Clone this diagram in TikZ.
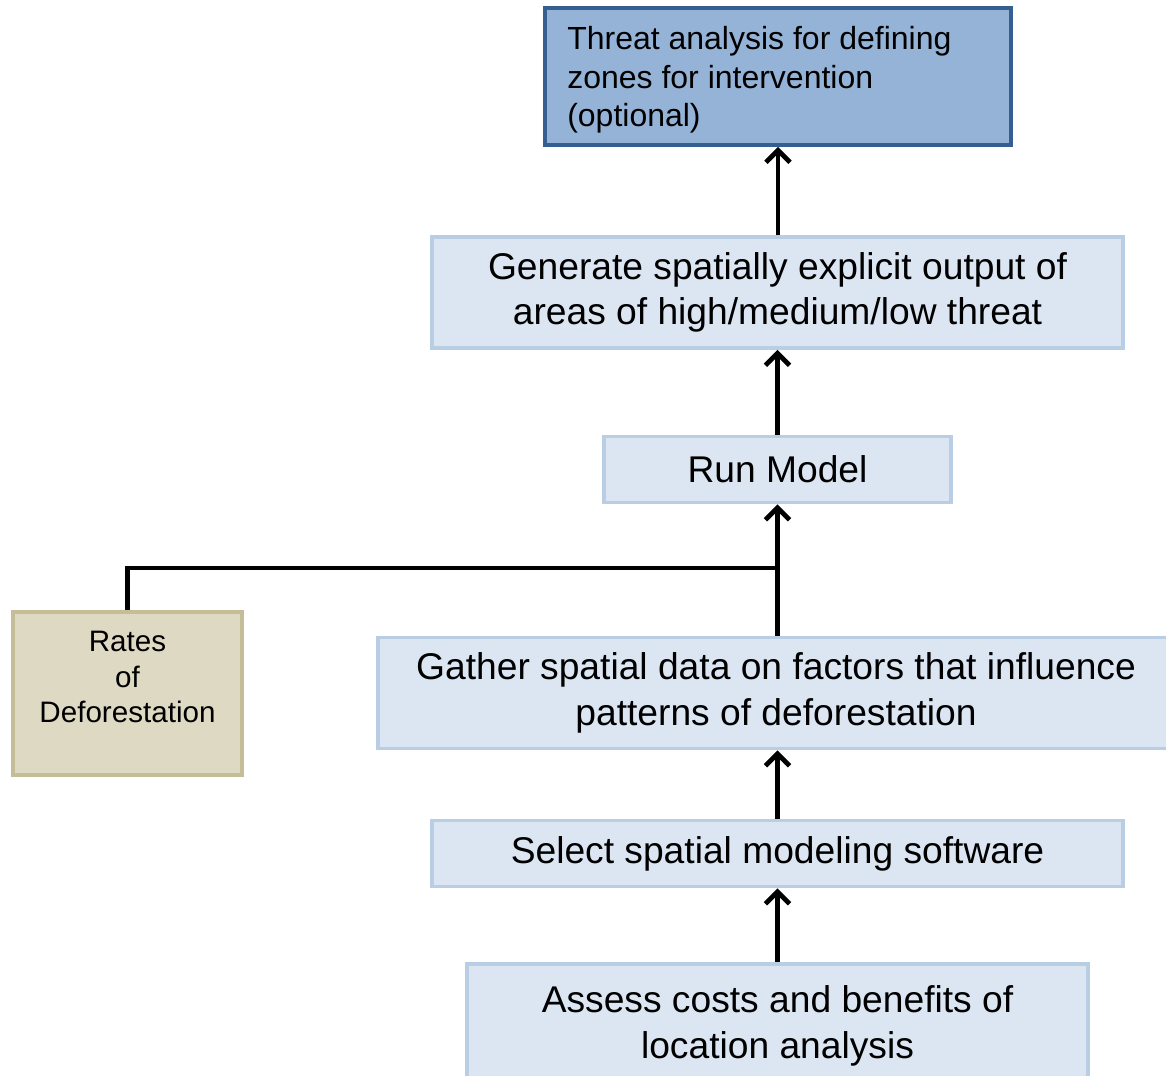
\documentclass[tikz,border=0pt]{standalone}
\usepackage{fontspec}
\setmainfont{Liberation Sans}
\usetikzlibrary{arrows.meta}
\definecolor{lightfill}{HTML}{DCE6F2}
\definecolor{lightedge}{HTML}{B9CDE5}
\definecolor{darkfill}{HTML}{95B3D7}
\definecolor{darkedge}{HTML}{365F91}
\definecolor{tanfill}{HTML}{DDD9C3}
\definecolor{tanedge}{HTML}{C4BD97}
\begin{document}
\begin{tikzpicture}[x=0.75pt,y=-0.75pt,
  box/.style={draw=lightedge,fill=lightfill,line width=2.8pt,inner sep=0pt,align=center,
    font=\fontsize{27.9}{34}\selectfont},
  topbox/.style={draw=darkedge,fill=darkfill,line width=2.8pt,inner sep=0pt},
  tanbox/.style={draw=tanedge,fill=tanfill,line width=2.8pt,inner sep=0pt},
  conn/.style={line width=3.6pt,-{Straight Barb[length=9pt,width=18pt]}},
  plain/.style={line width=3.6pt}]
\useasboundingbox (0,0) rectangle (1166,1075);
\clip (0,0) rectangle (1166,1075);
\node[topbox,minimum width=466*0.75pt,minimum height=137*0.75pt] (threat) at (778,76.5) {};
\node[anchor=north west,inner sep=0pt,align=left,font=\fontsize{24}{29}\selectfont] (threattxt) at (567,26)
  {Threat analysis for defining\\zones for intervention\\(optional)};
\node[box,minimum width=691*0.75pt,minimum height=111*0.75pt] (gen) at (777.5,292.5)
  {Generate spatially explicit output of\\areas of high/medium/low threat};
\node[box,minimum width=347*0.75pt,minimum height=66*0.75pt] (run) at (777.5,469.5)
  {Run Model};
\node[box,minimum width=796*0.75pt,minimum height=111*0.75pt] (gather) at (776,693)
  {Gather spatial data on factors that influence\\patterns of deforestation};
\node[box,minimum width=691*0.75pt,minimum height=66*0.75pt] (select) at (777.5,853.5)
  {Select spatial modeling software};
\node[box,minimum width=621*0.75pt,minimum height=124*0.75pt] (assess) at (777.5,1026)
  {Assess costs and benefits of\\location analysis};
\node[tanbox,minimum width=229*0.75pt,minimum height=163*0.75pt] (rates) at (127.5,693.5) {};
\node[anchor=north,inner sep=0pt,align=center,font=\fontsize{22.2}{26.6}\selectfont] (ratestxt) at (127.5,631)
  {Rates\\of\\Deforestation};
\coordinate (join) at (778,568);
\draw[conn] (gen.north -| threat.south) -- (threat.south);
\draw[conn] (run.north) -- (gen.south);
\draw[conn] (gather.north -| run.south) -- (run.south);
\draw[conn] (select.north) -- (gather.south -| select.north);
\draw[conn] (assess.north) -- (select.south);
\draw[plain] (rates.north) |- (join);
\end{tikzpicture}
\end{document}
